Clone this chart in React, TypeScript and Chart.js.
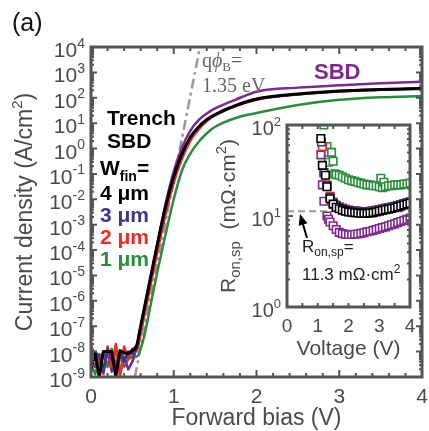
import React, { useEffect, useRef } from "react";
import { Chart, registerables } from "chart.js";
Chart.register(...registerables);

const SANS = "'Liberation Sans', Arial, Helvetica, sans-serif";
const SERIF = "'Liberation Serif', 'Times New Roman', serif";
const TXT = "#4a4a4a";
const FRAME = "#555555";
const C_BLACK = "#000000";
const C_BLUE = "#3b3595";
const C_RED = "#ee2a24";
const C_GREEN = "#2a8c3c";
const C_PURPLE = "#7d2a90";

// ---------- main panel data: forward bias (V) vs current density (A/cm^2)
const biasV = [0, 0.05, 0.1, 0.15, 0.2, 0.25, 0.3, 0.35, 0.4, 0.45, 0.5,
  0.55, 0.6, 0.65, 0.7, 0.8, 0.9, 1.0, 1.1, 1.2, 1.3, 1.4, 1.5, 1.75, 2.0, 2.5, 3.0, 3.5, 4.0];
const jBlack4um = [1.9e-9, 8.9e-9, 1.0e-9, 1.0e-8, 1.0e-8, 1.0e-8, 1.0e-9, 1.1e-8, 9.0e-9, 8.5e-9, 1.1e-8,
  1.6e-8, 1.0e-7, 6.3e-7, 4.0e-6, 1.6e-4, 5.0e-3, 7.9e-2, 0.63, 2.8, 7.1, 14, 22, 50, 90, 141, 184, 212, 234];
const jBlue3um = [2.5e-9, 1.0e-8, 6.3e-9, 1.6e-9, 1.3e-8, 5.0e-9, 2.0e-9, 1.0e-8, 4.0e-9, 1.0e-8, 7.9e-9,
  1.4e-8, 9.0e-8, 5.8e-7, 3.7e-6, 1.5e-4, 4.6e-3, 7.3e-2, 0.6, 2.7, 6.9, 13.6, 21.5, 49, 88, 139, 181, 209, 231];
const jRed2um = [1.8e-8, 6.3e-9, 4.0e-9, 1.3e-9, 1.6e-8, 2.5e-9, 2.0e-8, 1.0e-9, 1.6e-8, 5.0e-9, 1.3e-8,
  1.0e-8, 5.0e-8, 3.2e-7, 2.0e-6, 7.9e-5, 2.5e-3, 4.5e-2, 0.4, 2.0, 5.6, 12, 20, 47, 84, 135, 178, 207, 229];
const jGreen1um = [3.2e-9, 1.3e-9, 5.0e-9, 1.0e-8, 2.5e-9, 1.3e-8, 3.2e-9, 6.3e-9, 2.5e-9, 5.0e-9, 6.3e-9,
  6.3e-9, 1.3e-8, 5.0e-8, 3.2e-7, 1.3e-5, 4.0e-4, 1.0e-2, 0.14, 0.63, 1.8, 4.0, 7.2, 16, 25, 52, 83, 105, 117];
const jPurpleSBD = [5.0e-9, 2.5e-9, 7.9e-9, 2.0e-9, 1.0e-8, 1.6e-9, 1.6e-8, 1.3e-9, 6.3e-9, 2.0e-9, 4.0e-9,
  1.6e-8, 1.0e-7, 6.3e-7, 4.0e-6, 1.6e-4, 6.3e-3, 0.126, 1.12, 5.0, 13.2, 24, 38, 85, 174, 251, 309, 372, 427];
const noiseEndIndex = 11; // last point of the leakage floor (V = 0.55)
const idealV = [0.53, 1.317];
const idealJ = [1e-9, 1e4];

const mainXTicks = [0, 1, 2, 3, 4];
const mainYExponents = [-9, -8, -7, -6, -5, -4, -3, -2, -1, 0, 1, 2, 3, 4];

// ---------- inset data: voltage (V) vs Ron,sp (mOhm cm^2)
const insetVBlack = [1.1, 1.15, 1.25, 1.3, 1.4, 1.5, 1.6, 1.7, 1.8, 1.9, 2.0, 2.1, 2.2, 2.3, 2.4, 2.5, 2.6, 2.7, 2.8, 2.9, 3.0, 3.1, 3.2, 3.3, 3.4, 3.5, 3.6, 3.7, 3.8, 3.9, 4.0];
const insetRBlack = [71, 36, 28, 21, 15.5, 13.5, 12.5, 12.0, 11.6, 11.3, 11.1, 11.0, 10.9, 10.8, 10.7, 10.7, 10.7, 10.8, 10.9, 11.1, 11.3, 11.5, 11.7, 11.9, 12.1, 12.3, 12.6, 12.9, 13.2, 13.5, 13.8];
const insetVBlue = [1.12, 1.2, 1.3, 1.4, 1.5, 1.6, 1.7, 1.8, 1.9, 2.0, 2.1, 2.2, 2.3, 2.4, 2.5, 2.6, 2.7, 2.8, 2.9, 3.0, 3.1, 3.2, 3.3, 3.4, 3.5, 3.6, 3.7, 3.8, 3.9, 4.0];
const insetRBlue = [65, 30, 21.5, 16, 14, 13, 12.4, 12.0, 11.7, 11.5, 11.4, 11.3, 11.2, 11.1, 11.1, 11.1, 11.2, 11.3, 11.5, 11.7, 11.9, 12.1, 12.3, 12.5, 12.7, 13.0, 13.3, 13.6, 13.9, 14.2];
const insetVRed = [1.15, 1.2, 1.3, 1.4, 1.5, 1.6, 1.7, 1.8, 1.9, 2.0, 2.1, 2.2, 2.3, 2.4, 2.5, 2.6, 2.7, 2.8, 2.9, 3.0, 3.1, 3.2, 3.3, 3.4, 3.5, 3.6, 3.7, 3.8, 3.9, 4.0];
const insetRRed = [58, 30, 22, 16.5, 14.2, 13.2, 12.6, 12.2, 11.9, 11.7, 11.5, 11.4, 11.3, 11.2, 11.2, 11.2, 11.3, 11.4, 11.6, 11.8, 12.0, 12.2, 12.4, 12.6, 12.8, 13.1, 13.4, 13.7, 14.0, 14.3];
const insetVGreen = [1.2, 1.3, 1.35, 1.45, 1.35, 1.5, 1.55, 1.6, 1.7, 1.8, 1.9, 2.0, 2.1, 2.2, 2.3, 2.4, 2.5, 2.6, 2.7, 2.8, 2.9, 3.0, 3.05, 3.1, 3.15, 3.2, 3.3, 3.4, 3.5, 3.6, 3.7, 3.8, 3.9, 4.0];
const insetRGreen = [100, 58, 50, 50, 39, 40, 29, 28.5, 28, 27, 26, 25, 24.5, 24, 23.5, 23, 22.5, 22, 22, 21.5, 21.5, 21, 26, 20.5, 23.5, 21, 21.5, 21.5, 22, 22, 22, 22.5, 22.5, 23];
const insetVPurple = [1.1, 1.15, 1.2, 1.3, 1.35, 1.4, 1.5, 1.6, 1.7, 1.8, 1.9, 2.0, 2.1, 2.2, 2.3, 2.4, 2.5, 2.6, 2.7, 2.8, 2.9, 3.0, 3.1, 3.2, 3.3, 3.4, 3.5, 3.6, 3.7, 3.8, 3.9, 4.0];
const insetRPurple = [47, 22, 14.5, 10, 9.2, 8.6, 7.8, 7.1, 6.6, 6.4, 6.3, 6.25, 6.25, 6.3, 6.35, 6.45, 6.55, 6.7, 6.8, 6.95, 7.1, 7.3, 7.45, 7.6, 7.8, 8.0, 8.2, 8.45, 8.7, 8.95, 9.2, 9.5];
const ronRefV = [0, 4];
const ronRefValue = [11.3, 11.3];
const insetXTicks = [0, 1, 2, 3, 4];
const insetYExponents = [0, 1, 2];

const pts = (xs: number[], ys: number[]) => xs.map((x, i) => ({ x, y: ys[i] }));

type Run = { t: string; f: string; dy?: number; c?: string };
function runsWidth(ctx: CanvasRenderingContext2D, runs: Run[]) {
  let w = 0;
  for (const r of runs) { ctx.font = r.f; w += ctx.measureText(r.t).width; }
  return w;
}
function drawRuns(ctx: CanvasRenderingContext2D, runs: Run[], x: number, y: number, align: "left" | "center" | "right", color: string) {
  const w = runsWidth(ctx, runs);
  let cx = align === "left" ? x : align === "center" ? x - w / 2 : x - w;
  ctx.textAlign = "left";
  ctx.textBaseline = "alphabetic";
  for (const r of runs) {
    ctx.font = r.f;
    ctx.fillStyle = r.c || color;
    ctx.fillText(r.t, cx, y + (r.dy || 0));
    cx += ctx.measureText(r.t).width;
  }
}
function drawFrame(ctx: CanvasRenderingContext2D, a: any, xt: { p: number; l: number }[], yt: { p: number; l: number }[]) {
  ctx.save();
  ctx.strokeStyle = FRAME;
  ctx.lineWidth = 2;
  ctx.beginPath();
  for (const t of xt) {
    ctx.moveTo(t.p, a.bottom); ctx.lineTo(t.p, a.bottom - t.l);
    ctx.moveTo(t.p, a.top); ctx.lineTo(t.p, a.top + t.l);
  }
  for (const t of yt) {
    ctx.moveTo(a.left, t.p); ctx.lineTo(a.left + t.l, t.p);
    ctx.moveTo(a.right, t.p); ctx.lineTo(a.right - t.l, t.p);
  }
  ctx.stroke();
  ctx.lineWidth = 3;
  ctx.strokeRect(a.left, a.top, a.right - a.left, a.bottom - a.top);
  ctx.restore();
}
function logTicks(sy: any, e0: number, e1: number, major: number, minor: number) {
  const out: { p: number; l: number }[] = [];
  for (let e = e0; e <= e1; e++) {
    out.push({ p: sy.getPixelForValue(Math.pow(10, e)), l: major });
    if (e < e1) for (let m = 2; m <= 9; m++) out.push({ p: sy.getPixelForValue(m * Math.pow(10, e)), l: minor });
  }
  return out;
}
function powLabel(ctx: CanvasRenderingContext2D, exp: number, xRight: number, yTick: number, fs: number, es: number) {
  const runs: Run[] = [
    { t: "10", f: `${fs}px ${SANS}`, dy: 10 },
    { t: exp < 0 ? "-" + Math.abs(exp) : String(exp), f: `${es}px ${SANS}`, dy: 0.5 },
  ];
  drawRuns(ctx, runs, xRight, yTick, "right", TXT);
}

const mainDeco = {
  id: "mainDeco",
  afterDraw(chart: any) {
    const ctx: CanvasRenderingContext2D = chart.ctx;
    const a = chart.chartArea;
    const sx = chart.scales.x, sy = chart.scales.y;
    const xt: { p: number; l: number }[] = [];
    for (let i = 1; i < 20; i++) xt.push({ p: sx.getPixelForValue(i * 0.2), l: i % 5 === 0 ? 7 : 4 });
    drawFrame(ctx, a, xt, logTicks(sy, -9, 4, 6, 3));
    ctx.save();
    for (const e of mainYExponents) powLabel(ctx, e, 85, sy.getPixelForValue(Math.pow(10, e)), 21, 14);
    for (const v of mainXTicks) drawRuns(ctx, [{ t: String(v), f: `21px ${SANS}` }], sx.getPixelForValue(v), 403, "center", TXT);
    drawRuns(ctx, [{ t: "Forward bias (V)", f: `23px ${SANS}` }], (a.left + a.right) / 2, 425, "center", TXT);
    ctx.save();
    ctx.translate(32, (a.top + a.bottom) / 2);
    ctx.rotate(-Math.PI / 2);
    drawRuns(ctx, [
      { t: "Current density (A/cm", f: `23px ${SANS}` },
      { t: "2", f: `15px ${SANS}`, dy: -10 },
      { t: ")", f: `23px ${SANS}` },
    ], 0, 0, "center", TXT);
    ctx.restore();
    drawRuns(ctx, [{ t: "(a)", f: `25px ${SANS}` }], 12, 31, "left", "#111");
    const B21 = `bold 21px ${SANS}`;
    drawRuns(ctx, [{ t: "Trench", f: B21 }], 107, 125, "left", C_BLACK);
    drawRuns(ctx, [{ t: "SBD", f: B21 }], 107, 148, "left", C_BLACK);
    drawRuns(ctx, [{ t: "W", f: B21 }, { t: "fin", f: `bold 14px ${SANS}`, dy: 6 }, { t: "=", f: B21 }], 100, 175, "left", C_BLACK);
    drawRuns(ctx, [{ t: "4 μm", f: B21 }], 100, 200, "left", C_BLACK);
    drawRuns(ctx, [{ t: "3 μm", f: B21 }], 100, 222, "left", C_BLUE);
    drawRuns(ctx, [{ t: "2 μm", f: B21 }], 100, 244, "left", C_RED);
    drawRuns(ctx, [{ t: "1 μm", f: B21 }], 100, 266, "left", C_GREEN);
    drawRuns(ctx, [{ t: "SBD", f: `bold 22px ${SANS}` }], 314, 79, "left", C_PURPLE);
    drawRuns(ctx, [
      { t: "q", f: `20px ${SERIF}` },
      { t: "ϕ", f: `italic 20px ${SERIF}` },
      { t: "B", f: `13px ${SERIF}`, dy: 4 },
      { t: "=", f: `20px ${SERIF}` },
    ], 202, 67, "left", "#666");
    drawRuns(ctx, [{ t: "1.35 eV", f: `20px ${SERIF}` }], 202, 92, "left", "#666");
    ctx.restore();
  },
};

const insetDeco = {
  id: "insetDeco",
  afterDraw(chart: any) {
    const ctx: CanvasRenderingContext2D = chart.ctx;
    const a = chart.chartArea;
    const sx = chart.scales.x, sy = chart.scales.y;
    const xt: { p: number; l: number }[] = [];
    for (let i = 1; i < 8; i++) xt.push({ p: sx.getPixelForValue(i * 0.5), l: 4 });
    drawFrame(ctx, a, xt, logTicks(sy, 0, 2, 6, 3));
    ctx.save();
    for (const e of insetYExponents) powLabel(ctx, e, 69, sy.getPixelForValue(Math.pow(10, e)), 20, 13);
    for (const v of insetXTicks) drawRuns(ctx, [{ t: String(v), f: `19px ${SANS}` }], sx.getPixelForValue(v), 220, "center", TXT);
    drawRuns(ctx, [{ t: "Voltage (V)", f: `21px ${SANS}` }], (a.left + a.right) / 2, 243, "center", TXT);
    ctx.save();
    ctx.translate(23, (a.top + a.bottom) / 2);
    ctx.rotate(-Math.PI / 2);
    drawRuns(ctx, [
      { t: "R", f: `21px ${SANS}` },
      { t: "on,sp", f: `15px ${SANS}`, dy: 5 },
      { t: "  (mΩ·cm", f: `21px ${SANS}` },
      { t: "2", f: `15px ${SANS}`, dy: -9 },
      { t: ")", f: `21px ${SANS}` },
    ], 0, 0, "center", TXT);
    ctx.restore();
    drawRuns(ctx, [
      { t: "R", f: `17px ${SANS}` },
      { t: "on,sp", f: `12px ${SANS}`, dy: 4 },
      { t: "=", f: `17px ${SANS}` },
    ], 90, 140, "left", "#222");
    drawRuns(ctx, [
      { t: "11.3 mΩ·cm", f: `17px ${SANS}` },
      { t: "2", f: `12px ${SANS}`, dy: -7 },
    ], 90, 168, "left", "#222");
    const tx = 88, ty = 102, fx = 95, fy = 126;
    const ang = Math.atan2(ty - fy, tx - fx);
    ctx.strokeStyle = "#000"; ctx.fillStyle = "#000"; ctx.lineWidth = 2;
    ctx.beginPath(); ctx.moveTo(fx, fy);
    ctx.lineTo(tx - 8 * Math.cos(ang), ty - 8 * Math.sin(ang)); ctx.stroke();
    ctx.beginPath();
    ctx.moveTo(tx, ty);
    ctx.lineTo(tx - 11 * Math.cos(ang) + 4.5 * Math.sin(ang), ty - 11 * Math.sin(ang) - 4.5 * Math.cos(ang));
    ctx.lineTo(tx - 11 * Math.cos(ang) - 4.5 * Math.sin(ang), ty - 11 * Math.sin(ang) + 4.5 * Math.cos(ang));
    ctx.closePath(); ctx.fill();
    ctx.restore();
  },
};

export default function App() {
  const mainRef = useRef<HTMLCanvasElement>(null);
  const insetRef = useRef<HTMLCanvasElement>(null);

  useEffect(() => {
    const seg = (ys: number[], color: string, w: number, smooth: boolean) => {
      const all = pts(biasV, ys);
      const data = smooth ? all.slice(noiseEndIndex - 1) : all.slice(0, noiseEndIndex + 1);
      return {
        data, borderColor: color, backgroundColor: color, borderWidth: w, pointRadius: 0,
        cubicInterpolationMode: smooth ? ("monotone" as const) : ("default" as const), tension: 0, fill: false,
        borderJoinStyle: "round" as const,
      };
    };
    const series: [number[], string, number][] = [
      [jBlack4um, C_BLACK, 3],
      [jBlue3um, C_BLUE, 2.5],
      [jRed2um, C_RED, 2.5],
      [jPurpleSBD, C_PURPLE, 2.5],
      [jGreen1um, C_GREEN, 2.5],
    ];
    const datasets: any[] = [];
    for (const [ys, c, w] of series) {
      datasets.push(seg(ys, c, w, true));
      datasets.push(seg(ys, c, w, false));
    }
    datasets.push({ data: pts(idealV, idealJ), borderColor: "#999999", borderWidth: 2.5, borderDash: [10, 4, 3, 4], pointRadius: 0, fill: false });

    const main = new Chart(mainRef.current!, {
      type: "line",
      data: { datasets },
      options: {
        responsive: false,
        animation: false,
        events: [],
        layout: { padding: { top: 47, right: 7, left: 0, bottom: 0 } },
        plugins: { legend: { display: false }, tooltip: { enabled: false } },
        scales: {
          x: {
            type: "linear", min: 0, max: 4,
            grid: { display: false }, border: { display: false }, ticks: { display: false },
            afterFit: (s: any) => { s.height = 54; },
          },
          y: {
            type: "logarithmic", min: 1e-9, max: 1e4,
            grid: { display: false }, border: { display: false }, ticks: { display: false },
            afterFit: (s: any) => { s.width = 91; },
          },
        },
      },
      plugins: [mainDeco],
    } as any);

    const sq = (data: any, color: string) => ({
      data, borderColor: color, backgroundColor: "#ffffff", borderWidth: 1.6,
      pointStyle: "rect", pointRadius: 5.3, showLine: false,
    });
    const inset = new Chart(insetRef.current!, {
      type: "scatter",
      data: {
        datasets: [
          sq(pts(insetVBlack, insetRBlack), C_BLACK),
          sq(pts(insetVBlue, insetRBlue), C_BLUE),
          sq(pts(insetVRed, insetRRed), C_RED),
          sq(pts(insetVPurple, insetRPurple), C_PURPLE),
          sq(pts(insetVGreen, insetRGreen), C_GREEN),
          { data: pts(ronRefV, ronRefValue), borderColor: "#9a9a9a", borderWidth: 2, borderDash: [7, 4], pointRadius: 0, showLine: true },
        ],
      },
      options: {
        responsive: false,
        animation: false,
        events: [],
        layout: { padding: { top: 13, right: 7, left: 0, bottom: 0 } },
        plugins: { legend: { display: false }, tooltip: { enabled: false } },
        scales: {
          x: {
            type: "linear", min: 0, max: 4,
            grid: { display: false }, border: { display: false }, ticks: { display: false },
            afterFit: (s: any) => { s.height = 60; },
          },
          y: {
            type: "logarithmic", min: 1, max: 100,
            grid: { display: false }, border: { display: false }, ticks: { display: false },
            afterFit: (s: any) => { s.width = 75; },
          },
        },
      },
      plugins: [insetDeco],
    } as any);
    return () => { main.destroy(); inset.destroy(); };
  }, []);

  return (
    <div style={{ position: "fixed", left: 0, top: 0, width: 429, height: 431, background: "#fff" }}>
      <canvas ref={mainRef} width={429} height={431} style={{ position: "absolute", left: 0, top: 0, width: 429, height: 431 }} />
      <canvas ref={insetRef} width={205} height={255} style={{ position: "absolute", left: 212, top: 112, width: 205, height: 255 }} />
    </div>
  );
}
